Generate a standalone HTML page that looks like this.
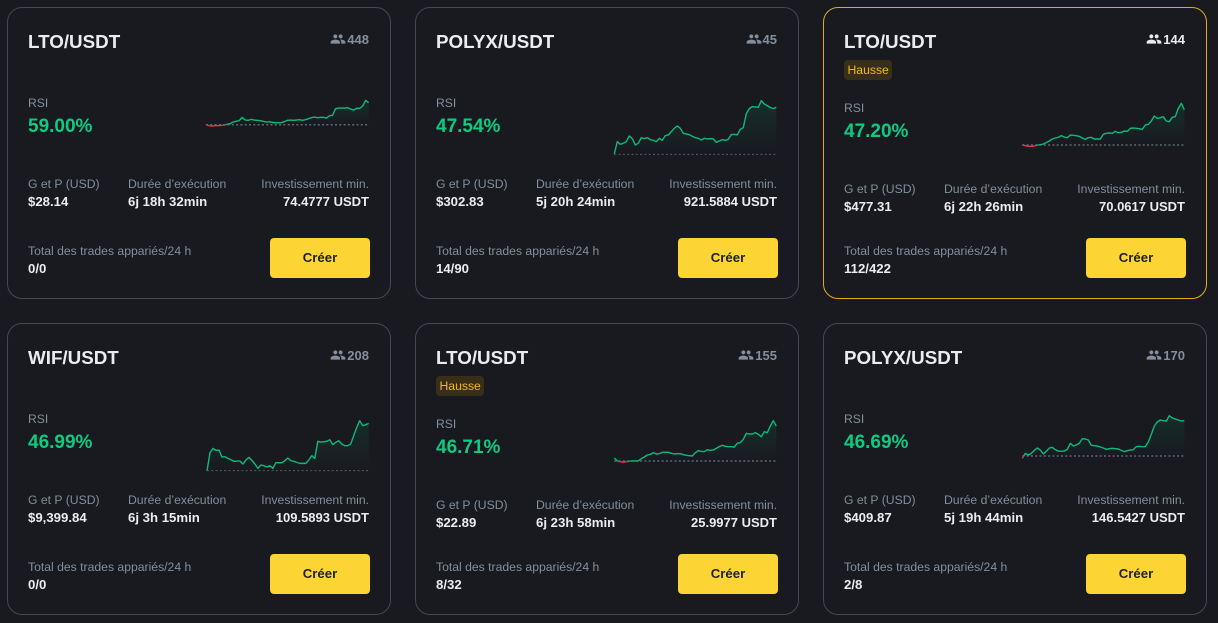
<!DOCTYPE html>
<html lang="fr">
<head>
<meta charset="utf-8">
<title>Grid bots</title>
<style>
html,body{margin:0;padding:0;width:1218px;height:623px;overflow:hidden;background:#181a20;font-family:"Liberation Sans",sans-serif;}
.card{position:absolute;width:384px;height:292px;box-sizing:border-box;border:1px solid #434852;border-radius:15px;background:#181a20;}
.card.active{border-color:#e0ae12;}
.t{position:absolute;white-space:nowrap;}
.title{left:20px;top:22px;font-size:18.8px;line-height:24px;font-weight:700;color:#eaecef;}
.users{right:21px;top:23px;height:16px;display:flex;align-items:center;font-size:13px;font-weight:700;color:#848e9c;}
.active .users{color:#eaecef;}
.users svg{width:16px;height:16px;margin-right:1px;fill:currentColor;}
.badge{left:20px;top:52px;height:20px;line-height:20px;padding:0 3.5px;font-size:12.2px;border-radius:4px;color:#f0b90b;background:#382e1a;}
.lab{font-size:12.2px;line-height:16px;color:#848e9c;}
.val{font-size:13.2px;line-height:16px;font-weight:700;color:#eaecef;}
.val.right{font-size:13px;}
.right{right:21px;}
.col1{left:20px;}
.col2{left:120px;}
.rsi-label{top:87px;}
.rsi-value{left:20px;top:107px;font-size:19px;line-height:24px;font-weight:700;color:#0ecb81;}
.row-l{top:168px;}
.row-v{top:186px;}
.bull .rsi-label{top:92px;}
.bull .rsi-value{top:112px;}
.bull .row-l{top:173px;}
.bull .row-v{top:191px;}
.tot-l{top:235px;}
.tot-v{top:253px;}
.btn{position:absolute;left:262px;top:230px;width:100px;height:40px;border:0;border-radius:4px;background:#fcd535;color:#1e2026;font:700 13.2px/40px "Liberation Sans",sans-serif;padding:0;text-align:center;}
.spark{position:absolute;left:0;top:0;width:382px;height:290px;overflow:visible;pointer-events:none;}
</style>
</head>
<body>

<div class="card" style="left:7px;top:7px">
  <div class="t title">LTO/USDT</div>
  <div class="t users"><svg viewBox="0 0 24 24"><path d="M16 11c1.660 0 2.990-1.340 2.990-3S17.660 5 16 5c-1.660 0-3 1.340-3 3s1.340 3 3 3zm-8 0c1.660 0 2.990-1.340 2.990-3S9.660 5 8 5C6.340 5 5 6.340 5 8s1.340 3 3 3zm0 2c-2.330 0-7 1.170-7 3.500V19h14v-2.500c0-2.330-4.670-3.500-7-3.500zm8 0c-.29 0-.62.020-.97.050 1.160.840 1.970 1.970 1.970 3.450V19h6v-2.500c0-2.330-4.670-3.500-7-3.500z"/></svg>448</div>
  <div class="t lab rsi-label col1">RSI</div>
  <div class="t rsi-value">59.00%</div>
  <svg class="spark" id="spark-1"></svg>
  <div class="t lab row-l col1">G et P (USD)</div>
  <div class="t val row-v col1">$28.14</div>
  <div class="t lab row-l col2">Durée d’exécution</div>
  <div class="t val row-v col2">6j 18h 32min</div>
  <div class="t lab row-l right">Investissement min.</div>
  <div class="t val row-v right">74.4777 USDT</div>
  <div class="t lab tot-l col1">Total des trades appariés/24 h</div>
  <div class="t val tot-v col1">0/0</div>
  <button class="btn">Créer</button>
</div>

<div class="card" style="left:415px;top:7px">
  <div class="t title">POLYX/USDT</div>
  <div class="t users"><svg viewBox="0 0 24 24"><path d="M16 11c1.660 0 2.990-1.340 2.990-3S17.660 5 16 5c-1.660 0-3 1.340-3 3s1.340 3 3 3zm-8 0c1.660 0 2.990-1.340 2.990-3S9.660 5 8 5C6.340 5 5 6.340 5 8s1.340 3 3 3zm0 2c-2.330 0-7 1.170-7 3.500V19h14v-2.500c0-2.330-4.670-3.500-7-3.500zm8 0c-.29 0-.62.020-.97.050 1.160.840 1.970 1.970 1.970 3.450V19h6v-2.500c0-2.330-4.670-3.500-7-3.500z"/></svg>45</div>
  <div class="t lab rsi-label col1">RSI</div>
  <div class="t rsi-value">47.54%</div>
  <svg class="spark" id="spark-2"></svg>
  <div class="t lab row-l col1">G et P (USD)</div>
  <div class="t val row-v col1">$302.83</div>
  <div class="t lab row-l col2">Durée d’exécution</div>
  <div class="t val row-v col2">5j 20h 24min</div>
  <div class="t lab row-l right">Investissement min.</div>
  <div class="t val row-v right">921.5884 USDT</div>
  <div class="t lab tot-l col1">Total des trades appariés/24 h</div>
  <div class="t val tot-v col1">14/90</div>
  <button class="btn">Créer</button>
</div>

<div class="card active bull" style="left:823px;top:7px">
  <div class="t title">LTO/USDT</div>
  <div class="t users"><svg viewBox="0 0 24 24"><path d="M16 11c1.660 0 2.990-1.340 2.990-3S17.660 5 16 5c-1.660 0-3 1.340-3 3s1.340 3 3 3zm-8 0c1.660 0 2.990-1.340 2.990-3S9.660 5 8 5C6.340 5 5 6.340 5 8s1.340 3 3 3zm0 2c-2.330 0-7 1.170-7 3.500V19h14v-2.500c0-2.330-4.670-3.500-7-3.500zm8 0c-.29 0-.62.020-.97.050 1.160.840 1.970 1.970 1.970 3.450V19h6v-2.500c0-2.330-4.670-3.500-7-3.500z"/></svg>144</div>
  <div class="t badge">Hausse</div>
  <div class="t lab rsi-label col1">RSI</div>
  <div class="t rsi-value">47.20%</div>
  <svg class="spark" id="spark-3"></svg>
  <div class="t lab row-l col1">G et P (USD)</div>
  <div class="t val row-v col1">$477.31</div>
  <div class="t lab row-l col2">Durée d’exécution</div>
  <div class="t val row-v col2">6j 22h 26min</div>
  <div class="t lab row-l right">Investissement min.</div>
  <div class="t val row-v right">70.0617 USDT</div>
  <div class="t lab tot-l col1">Total des trades appariés/24 h</div>
  <div class="t val tot-v col1">112/422</div>
  <button class="btn">Créer</button>
</div>

<div class="card" style="left:7px;top:323px">
  <div class="t title">WIF/USDT</div>
  <div class="t users"><svg viewBox="0 0 24 24"><path d="M16 11c1.660 0 2.990-1.340 2.990-3S17.660 5 16 5c-1.660 0-3 1.340-3 3s1.340 3 3 3zm-8 0c1.660 0 2.990-1.340 2.990-3S9.660 5 8 5C6.340 5 5 6.340 5 8s1.340 3 3 3zm0 2c-2.330 0-7 1.170-7 3.500V19h14v-2.500c0-2.330-4.670-3.500-7-3.500zm8 0c-.29 0-.62.020-.97.050 1.160.840 1.970 1.970 1.970 3.450V19h6v-2.500c0-2.330-4.670-3.500-7-3.500z"/></svg>208</div>
  <div class="t lab rsi-label col1">RSI</div>
  <div class="t rsi-value">46.99%</div>
  <svg class="spark" id="spark-4"></svg>
  <div class="t lab row-l col1">G et P (USD)</div>
  <div class="t val row-v col1">$9,399.84</div>
  <div class="t lab row-l col2">Durée d’exécution</div>
  <div class="t val row-v col2">6j 3h 15min</div>
  <div class="t lab row-l right">Investissement min.</div>
  <div class="t val row-v right">109.5893 USDT</div>
  <div class="t lab tot-l col1">Total des trades appariés/24 h</div>
  <div class="t val tot-v col1">0/0</div>
  <button class="btn">Créer</button>
</div>

<div class="card bull" style="left:415px;top:323px">
  <div class="t title">LTO/USDT</div>
  <div class="t users"><svg viewBox="0 0 24 24"><path d="M16 11c1.660 0 2.990-1.340 2.990-3S17.660 5 16 5c-1.660 0-3 1.340-3 3s1.340 3 3 3zm-8 0c1.660 0 2.990-1.340 2.990-3S9.660 5 8 5C6.340 5 5 6.340 5 8s1.340 3 3 3zm0 2c-2.330 0-7 1.170-7 3.500V19h14v-2.500c0-2.330-4.670-3.500-7-3.500zm8 0c-.29 0-.62.020-.97.050 1.160.840 1.970 1.970 1.970 3.450V19h6v-2.500c0-2.330-4.670-3.500-7-3.500z"/></svg>155</div>
  <div class="t badge">Hausse</div>
  <div class="t lab rsi-label col1">RSI</div>
  <div class="t rsi-value">46.71%</div>
  <svg class="spark" id="spark-5"></svg>
  <div class="t lab row-l col1">G et P (USD)</div>
  <div class="t val row-v col1">$22.89</div>
  <div class="t lab row-l col2">Durée d’exécution</div>
  <div class="t val row-v col2">6j 23h 58min</div>
  <div class="t lab row-l right">Investissement min.</div>
  <div class="t val row-v right">25.9977 USDT</div>
  <div class="t lab tot-l col1">Total des trades appariés/24 h</div>
  <div class="t val tot-v col1">8/32</div>
  <button class="btn">Créer</button>
</div>

<div class="card" style="left:823px;top:323px">
  <div class="t title">POLYX/USDT</div>
  <div class="t users"><svg viewBox="0 0 24 24"><path d="M16 11c1.660 0 2.990-1.340 2.990-3S17.660 5 16 5c-1.660 0-3 1.340-3 3s1.340 3 3 3zm-8 0c1.660 0 2.990-1.340 2.990-3S9.660 5 8 5C6.340 5 5 6.340 5 8s1.340 3 3 3zm0 2c-2.330 0-7 1.170-7 3.500V19h14v-2.500c0-2.330-4.670-3.500-7-3.500zm8 0c-.29 0-.62.020-.97.050 1.160.840 1.970 1.970 1.970 3.450V19h6v-2.500c0-2.330-4.670-3.500-7-3.500z"/></svg>170</div>
  <div class="t lab rsi-label col1">RSI</div>
  <div class="t rsi-value">46.69%</div>
  <svg class="spark" id="spark-6"></svg>
  <div class="t lab row-l col1">G et P (USD)</div>
  <div class="t val row-v col1">$409.87</div>
  <div class="t lab row-l col2">Durée d’exécution</div>
  <div class="t val row-v col2">5j 19h 44min</div>
  <div class="t lab row-l right">Investissement min.</div>
  <div class="t val row-v right">146.5427 USDT</div>
  <div class="t lab tot-l col1">Total des trades appariés/24 h</div>
  <div class="t val tot-v col1">2/8</div>
  <button class="btn">Créer</button>
</div>

<script>
// Sparkline values (performance relative to the bot's start level)
var ltoSeriesA = [0,-3,-4,-3,-3,-2,-1,1,3,8,10,12,22,14,13,16,14,13,12,10,8,9,7,6,6,6,9,13,14,13,14,15,13,15,18,21,23,21,22,22,20,27,28,48,50,50,50,51,47,44,49,49,56,73,66];
var polyxSeriesA = [1,38,30,33,38,55,47,28,33,50,47,50,44,42,38,48,42,56,58,68,78,85,78,63,61,59,54,50,48,43,48,46,47,46,36,40,44,42,45,59,60,58,75,80,122,137,143,142,141,161,151,146,140,137,141];
var ltoSeriesB = [0,-2,-4,-4,-3,-1,1,3,7,12,18,21,23,28,24,22,30,29,28,26,21,17,22,23,18,18,18,32,35,36,35,41,37,38,42,41,50,51,50,49,47,60,62,72,87,80,82,85,72,70,83,85,110,125,106];
var wifSeries = [0,54,67,61,62,41,42,37,33,28,29,29,20,32,40,31,20,7,17,15,11,15,7,24,24,24,30,38,30,28,25,22,22,22,32,45,37,88,86,87,88,93,78,85,90,80,75,75,80,105,130,150,135,138,142];
var ltoSeriesC = [9,0,-2,-4,-2,-1,0,0,0,7,12,18,20,25,21,22,26,26,26,23,21,22,22,19,17,16,15,25,31,29,28,34,32,33,38,43,47,44,43,43,42,53,55,65,83,81,81,85,80,73,88,85,105,121,105];
var polyxSeriesB = [-7,8,3,8,17,24,18,6,14,24,26,19,15,14,15,20,38,30,33,38,52,51,48,32,31,30,27,24,20,22,23,22,21,17,13,16,18,19,28,29,28,28,42,65,90,102,108,106,105,121,114,111,108,105,106];

var SVG_NS = 'http://www.w3.org/2000/svg';
var UNIT_PX = 1 / 3;

function xAxis(i, n, left, right) {
  return left + i * (right - left) / (n - 1);
}
function yAxis(v, base) {
  return base - v * UNIT_PX;
}

function renderSpark(id, values, left, right, base, dotWidth) {
  var svg = document.getElementById(id);
  var n = values.length;
  var pts = values.map(function (v, i) {
    return xAxis(i, n, left, right).toFixed(2) + ',' + yAxis(v, base).toFixed(2);
  });
  var zeroY = yAxis(0, base);
  var maxV = Math.max.apply(null, values);
  var topY = yAxis(maxV, base);

  var defs = document.createElementNS(SVG_NS, 'defs');
  var grad = document.createElementNS(SVG_NS, 'linearGradient');
  grad.setAttribute('id', id + '-grad');
  grad.setAttribute('gradientUnits', 'userSpaceOnUse');
  grad.setAttribute('x1', '0');
  grad.setAttribute('x2', '0');
  grad.setAttribute('y1', String(topY));
  grad.setAttribute('y2', String(zeroY));
  var s1 = document.createElementNS(SVG_NS, 'stop');
  s1.setAttribute('offset', '0');
  s1.setAttribute('stop-color', '#0ecb81');
  s1.setAttribute('stop-opacity', '0.11');
  var s2 = document.createElementNS(SVG_NS, 'stop');
  s2.setAttribute('offset', '1');
  s2.setAttribute('stop-color', '#0ecb81');
  s2.setAttribute('stop-opacity', '0');
  grad.appendChild(s1);
  grad.appendChild(s2);
  defs.appendChild(grad);

  var clipUp = document.createElementNS(SVG_NS, 'clipPath');
  clipUp.setAttribute('id', id + '-up');
  var rUp = document.createElementNS(SVG_NS, 'rect');
  rUp.setAttribute('x', '0');
  rUp.setAttribute('y', '0');
  rUp.setAttribute('width', '400');
  rUp.setAttribute('height', String(zeroY));
  clipUp.appendChild(rUp);
  defs.appendChild(clipUp);

  var clipDown = document.createElementNS(SVG_NS, 'clipPath');
  clipDown.setAttribute('id', id + '-down');
  var rDown = document.createElementNS(SVG_NS, 'rect');
  rDown.setAttribute('x', '0');
  rDown.setAttribute('y', String(zeroY));
  rDown.setAttribute('width', '400');
  rDown.setAttribute('height', '100');
  clipDown.appendChild(rDown);
  defs.appendChild(clipDown);
  svg.appendChild(defs);

  var area = document.createElementNS(SVG_NS, 'polygon');
  
  
  area.setAttribute('points', pts.join(' ') + ' ' + right + ',' + zeroY + ' ' + left + ',' + zeroY);
  area.setAttribute('fill', 'url(#' + id + '-grad)');
  area.setAttribute('clip-path', 'url(#' + id + '-up)');
  svg.appendChild(area);

  var dots = document.createElementNS(SVG_NS, 'line');
  
  
  dots.setAttribute('x1', String(left));
  dots.setAttribute('x2', String(right));
  dots.setAttribute('y1', String(zeroY));
  dots.setAttribute('y2', String(zeroY));
  dots.setAttribute('stroke', '#5e6673');
  dots.setAttribute('stroke-width', String(dotWidth));
  dots.setAttribute('stroke-dasharray', '2 2.3');
  svg.appendChild(dots);

  var up = document.createElementNS(SVG_NS, 'polyline');
  
  
  up.setAttribute('points', pts.join(' '));
  up.setAttribute('fill', 'none');
  up.setAttribute('stroke', '#0db97a');
  up.setAttribute('stroke-width', '1.400');
  up.setAttribute('stroke-linejoin', 'round');
  up.setAttribute('clip-path', 'url(#' + id + '-up)');
  svg.appendChild(up);

  var down = document.createElementNS(SVG_NS, 'polyline');
  
  
  down.setAttribute('points', pts.join(' '));
  down.setAttribute('fill', 'none');
  down.setAttribute('stroke', '#e0354f');
  down.setAttribute('stroke-width', '1.400');
  down.setAttribute('stroke-linejoin', 'round');
  down.setAttribute('clip-path', 'url(#' + id + '-down)');
  svg.appendChild(down);
}

renderSpark('spark-1', ltoSeriesA, 198, 360.7, 116.7, 1.5);
renderSpark('spark-2', polyxSeriesA, 198.3, 360.3, 146.3, 0.8);
renderSpark('spark-3', ltoSeriesB, 198.3, 360.3, 137, 1.5);
renderSpark('spark-4', wifSeries, 199, 360.7, 146.7, 0.8);
renderSpark('spark-5', ltoSeriesC, 198.3, 360.3, 137, 1.5);
renderSpark('spark-6', polyxSeriesB, 198.3, 360.3, 132, 1.5);
</script>
</body>
</html>
